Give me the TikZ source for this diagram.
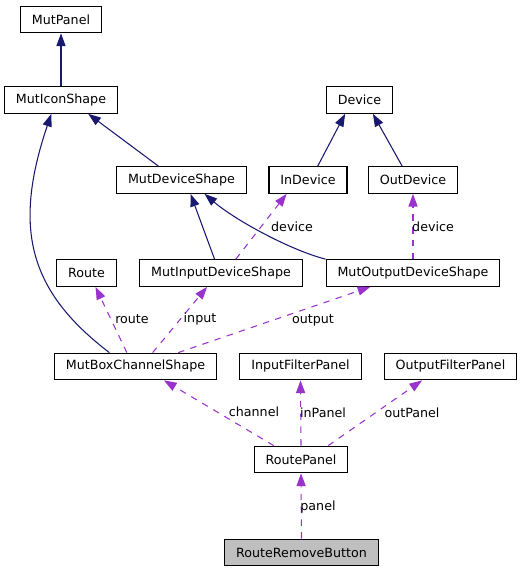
\documentclass[tikz,border=0pt]{standalone}
\usepackage{fontspec}
\setmainfont{DejaVu Sans}
\usepackage{tikz}
\usetikzlibrary{arrows.meta}
\definecolor{navy}{HTML}{191970}
\definecolor{orchid}{HTML}{9A32CD}

\begin{document}
\begin{tikzpicture}[x=0.75pt, y=-0.75pt, font=\fontsize{9.5}{11}\selectfont,
  cls/.style={draw=black, line width=0.8pt, fill=white, inner xsep=8.6pt, inner ysep=0pt, minimum height=20pt},
  cur/.style={cls, fill=black!25},
  inh/.style={draw=navy, line width=0.8pt, -{Triangle[length=9.5pt, width=6.8pt]}},
  use/.style={draw=orchid, line width=0.8pt, dash pattern=on 4.8pt off 4.8pt, -{Triangle[length=9.5pt, width=6.8pt]}},
  lbl/.style={inner sep=0pt}]
\useasboundingbox (0,0) rectangle (521,573);

\node[cls] (MP) at (61,19.5) {MutPanel};
\node[cls] (MIS) at (61,100) {MutIconShape};
\node[cls] (MDS) at (181.5,180) {MutDeviceShape};
\node[cls] (Dev) at (359.5,100) {Device};
\node[cls] (InD) at (308,180) {InDevice};
\node[cls] (OutD) at (413,180) {OutDevice};
\node[cls] (R) at (86.5,273) {Route};
\node[cls] (MIDS) at (221,273) {MutInputDeviceShape};
\node[cls] (MODS) at (413,273) {MutOutputDeviceShape};
\node[cls] (MBCS) at (135.5,366.5) {MutBoxChannelShape};
\node[cls] (IFP) at (300.5,366.5) {InputFilterPanel};
\node[cls] (OFP) at (450.5,366.5) {OutputFilterPanel};
\node[cls] (RP) at (301,459.5) {RoutePanel};
\node[cur] (RRB) at (301.5,552.5) {RouteRemoveButton};

\draw[inh] (MIS.north) -- (MP.south);
\draw[inh] (MDS.149) -- (MIS.-27);
\draw[inh] (MBCS.152) .. controls (30,292) and (12,230) .. (MIS.-125);
\draw[inh] (InD.55) -- (Dev.-136);
\draw[inh] (OutD.128) -- (Dev.-46);
\draw[inh] (MIDS.115) -- (MDS.-57);
\draw[inh] (MODS.171) .. controls (290,250) and (235,220) .. (MDS.-31);

\draw[use] (MIDS.43) -- (InD.-147);
\draw[use] (MODS.north) -- (OutD.south);
\draw[use] (MBCS.122) -- (R.-57);
\draw[use] (MBCS.39) -- (MIDS.-135);
\draw[use] (MBCS.18) -- (MODS.-162);
\draw[use] (RP.153) -- (MBCS.-26);
\draw[use] (RP.north) -- (IFP.south);
\draw[use] (RP.27) -- (OFP.-154);
\draw[use] (RRB.north) -- (RP.south);

\draw (292,227) node[lbl] (l1) {device};
\draw (433,227) node[lbl] (l2) {device};
\draw (132,319) node[lbl] (l3) {route};
\draw (200,319) node[lbl] (l4) {input};
\draw (313,320) node[lbl] (l5) {output};
\draw (254,412) node[lbl] (l6) {channel};
\draw (323,413) node[lbl] (l7) {inPanel};
\draw (412,413) node[lbl] (l8) {outPanel};
\draw (318,507) node[lbl] (l9) {panel};
%
\end{tikzpicture}
\end{document}
